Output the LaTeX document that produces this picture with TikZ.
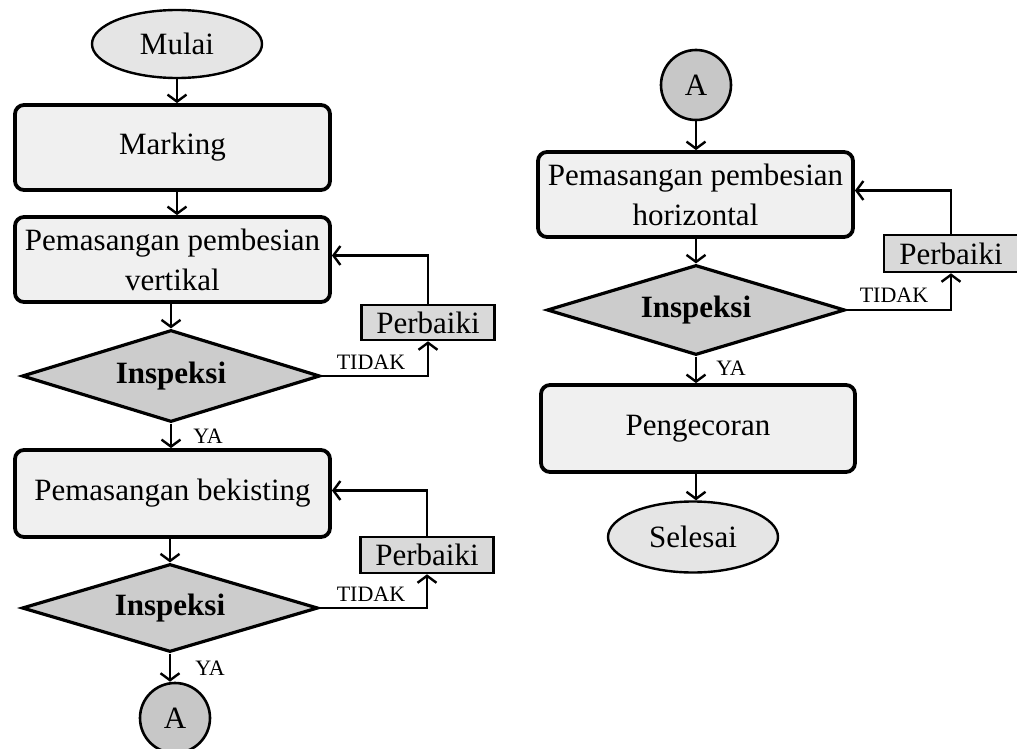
\documentclass[tikz,border=0pt]{standalone}
\usepackage{fontspec}
\setmainfont{Liberation Serif}
\usetikzlibrary{shapes.geometric,arrows.meta}
\begin{document}
\begin{tikzpicture}[x=1pt,y=-1pt,
  every node/.style={font=\fontsize{31}{35}\selectfont, align=center, text=black},
  procbox/.style={draw, line width=3.8pt, rounded corners=9pt, fill=black!6, inner sep=0pt},
  decision/.style={draw, diamond, aspect=3.2, line width=3.2pt, fill=black!20, inner sep=0pt, font=\fontsize{31}{35}\selectfont\bfseries},
  terminal/.style={draw, ellipse, line width=2.4pt, fill=black!10, inner sep=0pt},
  connector/.style={draw, circle, line width=2.6pt, fill=black!22, inner sep=0pt, minimum size=70pt},
  fixbox/.style={draw, rectangle, line width=2.6pt, fill=black!15, inner sep=0pt},
  lbl/.style={font=\fontsize{22}{24}\selectfont, inner sep=0pt},
  arr/.style={line width=2.7pt, -{Straight Barb[length=7pt,width=19pt,line width=2.4pt]}}
]
\useasboundingbox[fill=white] (0,0) rectangle (1017,749);

% left column
\node[terminal, minimum width=170pt, minimum height=68pt] (mulai) at (177,44) {Mulai};
\node[procbox, minimum width=315pt, minimum height=85pt] (mark) at (172.5,147.5) {Marking};
\node[procbox, minimum width=315pt, minimum height=85pt] (vert) at (172.5,259.5) {Pemasangan pembesian\\[5pt]vertikal};
\node[decision, minimum width=298pt, minimum height=92pt] (d1) at (171,376) {Inspeksi};
\node[fixbox, minimum width=133pt, minimum height=35pt] (p1) at (428,322.5) {Perbaiki};
\node[procbox, minimum width=315pt, minimum height=87pt] (bek) at (172.5,493.5) {Pemasangan bekisting};
\node[decision, minimum width=296pt, minimum height=88pt] (d2) at (170,608) {Inspeksi};
\node[fixbox, minimum width=133pt, minimum height=36pt] (p2) at (427,555) {Perbaiki};
\node[connector] (a1) at (175,718) {A};

% right column
\node[connector] (a2) at (696,85) {A};
\node[procbox, minimum width=315pt, minimum height=85pt] (hor) at (695.5,194.5) {Pemasangan pembesian\\[5pt]horizontal};
\node[decision, minimum width=298pt, minimum height=90pt] (d3) at (696,310) {Inspeksi};
\node[fixbox, minimum width=134pt, minimum height=37pt] (p3) at (951,253.5) {Perbaiki};
\node[procbox, minimum width=314pt, minimum height=87pt] (cor) at (698,428.5) {Pengecoran};
\node[terminal, minimum width=170pt, minimum height=71pt] (sel) at (693,537) {Selesai};

% flow arrows left
\draw[arr] (mulai.south) -- (mulai.south |- mark.north);
\draw[arr] (mark.south -| mulai.south) -- (mulai.south |- vert.north);
\draw[arr] (vert.south -| d1.north) -- (d1.north);
\draw[arr] (d1.south) -- (d1.south |- bek.north);
\draw[arr] (bek.south -| d2.north) -- (d2.north);
\draw[arr] (d2.south) -- (d2.south |- a1.north);

% loops left
\draw[arr] (d1.east) -| (p1.south);
\draw[arr] (p1.north) |- ([yshift=4pt]vert.east);
\draw[arr] (d2.east) -| (p2.south);
\draw[arr] (p2.north) |- ([yshift=3pt]bek.east);

% flow arrows right
\draw[arr] (a2.south) -- (a2.south |- hor.north);
\draw[arr] (hor.south -| d3.north) -- (d3.north);
\draw[arr] (d3.south) -- (d3.south |- cor.north);
\draw[arr] (d3.south |- cor.south) -- (d3.south |- sel.north);

% loop right
\draw[arr] (d3.east) -| (p3.south);
\draw[arr] (p3.north) |- ([yshift=4pt]hor.east);

% labels
\node[lbl] (t1) at (371,362) {TIDAK};
\node[lbl] (t2) at (371,594) {TIDAK};
\node[lbl] (t3) at (894,295) {TIDAK};
\node[lbl] (y1) at (208,436) {YA};
\node[lbl] (y2) at (210,668) {YA};
\node[lbl] (y3) at (731,368) {YA};
\end{tikzpicture}
\end{document}
